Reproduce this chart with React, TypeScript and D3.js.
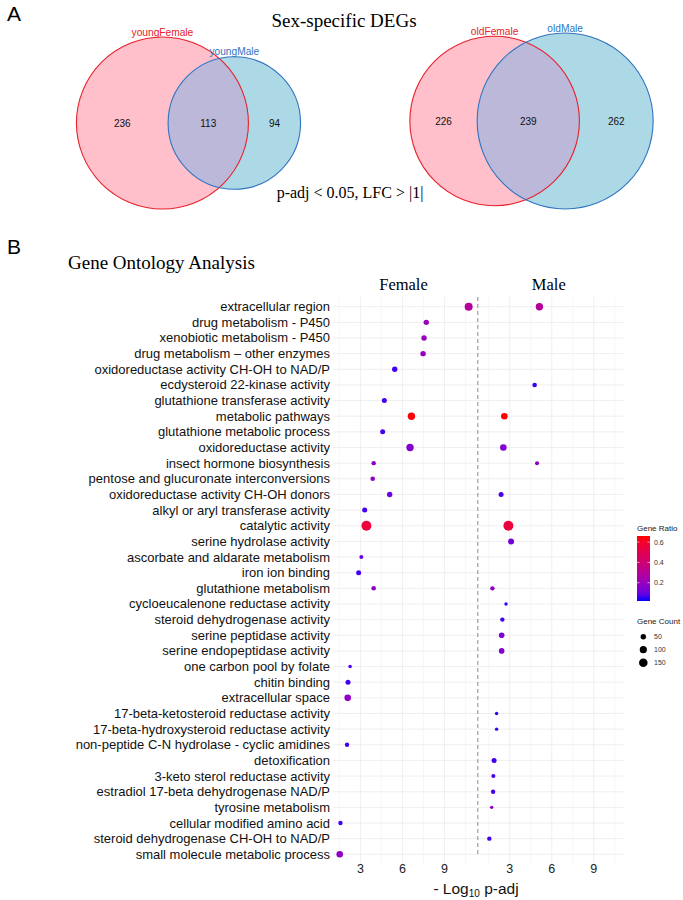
import React from "react";
import * as d3 from "d3";

// ---------- Venn data ----------
const youngSets = ["youngFemale", "youngMale"];
const youngCounts = [236, 113, 94]; // only A, A∩B, only B
const oldSets = ["oldFemale", "oldMale"];
const oldCounts = [226, 239, 262];

// ---------- GO data ----------
const categories = [
  "extracellular region",
  "drug metabolism - P450",
  "xenobiotic metabolism - P450",
  "drug metabolism – other enzymes",
  "oxidoreductase activity CH-OH to NAD/P ",
  "ecdysteroid 22-kinase activity",
  "glutathione transferase activity",
  "metabolic pathways",
  "glutathione metabolic process",
  "oxidoreductase activity",
  "insect hormone biosynthesis",
  "pentose and glucuronate interconversions",
  "oxidoreductase activity CH-OH donors",
  "alkyl or aryl transferase activity",
  "catalytic activity",
  "serine hydrolase activity",
  "ascorbate and aldarate metabolism",
  "iron ion binding",
  "glutathione metabolism",
  "cycloeucalenone reductase activity",
  "steroid dehydrogenase activity",
  "serine peptidase activity",
  "serine endopeptidase activity",
  "one carbon pool by folate",
  "chitin binding",
  "extracellular space",
  "17-beta-ketosteroid reductase activity",
  "17-beta-hydroxysteroid reductase activity",
  "non-peptide C-N hydrolase - cyclic amidines",
  "detoxification",
  "3-keto sterol reductase activity",
  "estradiol 17-beta dehydrogenase NAD/P",
  "tyrosine metabolism",
  "cellular modified amino acid",
  "steroid dehydrogenase CH-OH to NAD/P",
  "small molecule metabolic process",
];

const femaleLogP: (number | null)[] = [
  10.72, 7.7, 7.54, 7.47, 5.45, null, 4.71, 6.64, 4.59, 6.54, 3.95, 3.88,
  5.09, 3.31, 3.43, null, 3.07, 2.88, 3.95, null, null, null, null, 2.27,
  2.12, 2.1, null, null, 2.05, null, null, null, null, 1.58, null, 1.53,
];
const femaleRatio: (number | null)[] = [
  0.29, 0.2, 0.2, 0.2, 0.05, null, 0.05, 0.65, 0.05, 0.15, 0.17, 0.17,
  0.1, 0.05, 0.55, null, 0.1, 0.05, 0.17, null, null, null, null, 0.07,
  0.05, 0.18, null, null, 0.05, null, null, null, null, 0.05, null, 0.18,
];
const femaleCount: (number | null)[] = [
  128, 50, 50, 50, 50, null, 41, 107, 41, 107, 28, 32,
  50, 41, 205, null, 21, 41, 32, null, null, null, null, 14,
  41, 82, null, null, 28, null, null, null, null, 28, null, 82,
];

const maleLogP: (number | null)[] = [
  5.12, null, null, null, null, 4.78, null, 2.62, null, 2.55, 4.95, null,
  2.39, null, 2.91, 3.1, null, null, 1.77, 2.74, 2.48, 2.43, 2.43, null,
  null, null, 2.07, 2.07, null, 1.89, 1.84, 1.82, 1.72, null, 1.55, null,
];
const maleRatio: (number | null)[] = [
  0.29, null, null, null, null, 0.04, null, 0.66, null, 0.15, 0.17, null,
  0.06, null, 0.55, 0.12, null, null, 0.18, 0.04, 0.05, 0.13, 0.15, null,
  null, null, 0.04, 0.04, null, 0.05, 0.05, 0.05, 0.17, null, 0.05, null,
];
const maleCount: (number | null)[] = [
  107, null, null, null, null, 32, null, 82, null, 82, 21, null,
  41, null, 205, 65, null, null, 28, 11, 28, 55, 55, null,
  null, null, 11, 11, null, 41, 21, 28, 11, null, 28, null,
];

const xTicks = [3, 6, 9];
const xMinor = [1.5, 4.5, 7.5, 10.5];
const ratioTicks = [0.2, 0.4, 0.6];
const countTicks = [50, 100, 150];
const panels = ["Female", "Male"];

const SANS = "'Liberation Sans', Arial, sans-serif";
const SERIF = "'Liberation Serif', 'Times New Roman', serif";

function interArea(r1: number, r2: number, d: number) {
  if (d >= r1 + r2) return 0;
  if (d <= Math.abs(r1 - r2)) return Math.PI * Math.min(r1, r2) ** 2;
  const a = r1 * r1 * Math.acos((d * d + r1 * r1 - r2 * r2) / (2 * d * r1));
  const b = r2 * r2 * Math.acos((d * d + r2 * r2 - r1 * r1) / (2 * d * r2));
  const c =
    0.5 *
    Math.sqrt((-d + r1 + r2) * (d + r1 - r2) * (d - r1 + r2) * (d + r1 + r2));
  return a + b - c;
}

function Venn({
  sets,
  counts,
  cx,
  cy,
  rMax,
  id,
}: {
  sets: string[];
  counts: number[];
  cx: number;
  cy: number;
  rMax: number;
  id: string;
}) {
  const tA = counts[0] + counts[1];
  const tB = counts[1] + counts[2];
  const m = Math.max(tA, tB);
  const rA = rMax * Math.sqrt(tA / m);
  const rB = rMax * Math.sqrt(tB / m);
  const target = (counts[1] / tA) * Math.PI * rA * rA;
  let lo = Math.abs(rA - rB),
    hi = rA + rB;
  for (let i = 0; i < 60; i++) {
    const mid = (lo + hi) / 2;
    if (interArea(rA, rB, mid) > target) lo = mid;
    else hi = mid;
  }
  const d = (lo + hi) / 2;
  const width = rA + d + rB;
  const ax = cx - width / 2 + rA;
  const bx = ax + d;
  const aL = ax - rA,
    aR = ax + rA,
    bL = bx - rB,
    bR = bx + rB;
  const labelX = [(aL + bL) / 2, (bL + aR) / 2, (aR + bR) / 2];
  return (
    <g>
      <defs>
        <clipPath id={id}>
          <circle cx={bx} cy={cy} r={rB} />
        </clipPath>
      </defs>
      <circle cx={ax} cy={cy} r={rA} fill="#FFC0CB" />
      <circle cx={bx} cy={cy} r={rB} fill="#ADD8E6" />
      <circle cx={ax} cy={cy} r={rA} fill="#BBB8D9" clipPath={`url(#${id})`} />
      <circle cx={ax} cy={cy} r={rA} fill="none" stroke="#E8202A" strokeWidth={1.1} />
      <circle cx={bx} cy={cy} r={rB} fill="none" stroke="#2F74C0" strokeWidth={1.1} />
      <text x={ax} y={cy - rA - 1.5} textAnchor="middle" fontFamily={SANS} fontSize={10.2} fill="#E8202A">
        {sets[0]}
      </text>
      <text x={bx} y={cy - rB - 1.5} textAnchor="middle" fontFamily={SANS} fontSize={10.2} fill="#2F74C0">
        {sets[1]}
      </text>
      {counts.map((c, i) => (
        <text key={i} x={labelX[i]} y={cy + 3.5} textAnchor="middle" fontFamily={SANS} fontSize={10} fill="#111">
          {c}
        </text>
      ))}
    </g>
  );
}

export default function App() {
  const W = 683,
    H = 900;
  const y = d3.scalePoint<string>().domain(categories).range([306.7, 854.3]);
  const xDomain = [1.05, 11.1];
  const xF = d3.scaleLinear().domain(xDomain).range([333, 474]);
  const xM = d3.scaleLinear().domain(xDomain).range([482.3, 623.3]);
  const scales = [xF, xM];
  const headerShift = [0, -4];
  const panelTop = 297,
    panelBottom = 864;
  const color = d3
    .scaleLinear<string>()
    .domain([0.02, 0.66])
    .range(["blue", "red"])
    .interpolate(d3.interpolateLab)
    .clamp(true);
  const sizeArea = d3.scaleLinear().domain([50, 150]).range([7.29, 18.49]);
  const rad = (c: number) => Math.sqrt(sizeArea(c));

  const series = [
    { p: femaleLogP, r: femaleRatio, c: femaleCount },
    { p: maleLogP, r: maleRatio, c: maleCount },
  ];

  // legend
  const legX = 637,
    barTop = 536,
    barBottom = 601;
  const legY = d3.scaleLinear().domain([0.02, 0.66]).range([barBottom, barTop]);
  const gradStops = d3.range(0, 1.0001, 0.1);

  return (
    <svg
      width={W}
      height={H}
      viewBox={`0 0 ${W} ${H}`}
      style={{ position: "absolute", left: 0, top: 0, background: "#fff" }}
    >
      <rect width={W} height={H} fill="#fff" />
      {/* Panel A */}
      <text x={7} y={21} fontFamily={SANS} fontSize={21}>A</text>
      <text x={344} y={27} textAnchor="middle" fontFamily={SERIF} fontSize={19}>
        Sex-specific DEGs
      </text>
      <Venn sets={youngSets} counts={youngCounts} cx={188.5} cy={123} rMax={86} id="clipYoung" />
      <Venn sets={oldSets} counts={oldCounts} cx={531.5} cy={121} rMax={88} id="clipOld" />
      <text x={350} y={198} textAnchor="middle" fontFamily={SERIF} fontSize={16}>
        p-adj &lt; 0.05, LFC &gt; |1|
      </text>

      {/* Panel B */}
      <text x={7} y={254} fontFamily={SANS} fontSize={21}>B</text>
      <text x={68} y={269} fontFamily={SERIF} fontSize={19}>
        Gene Ontology Analysis
      </text>

      {/* grid */}
      <g>
        {categories.map((c) => (
          <line key={c} x1={333} x2={623.3} y1={y(c)} y2={y(c)} stroke="#EBEBEB" strokeWidth={0.8} />
        ))}
        {scales.map((sx, i) => (
          <g key={i}>
            {xMinor.map((t) => (
              <line key={"m" + t} x1={sx(t)} x2={sx(t)} y1={panelTop} y2={panelBottom} stroke="#F2F2F2" strokeWidth={0.6} />
            ))}
            {xTicks.map((t) => (
              <line key={"M" + t} x1={sx(t)} x2={sx(t)} y1={panelTop} y2={panelBottom} stroke="#EBEBEB" strokeWidth={0.8} />
            ))}
            <text x={(sx.range()[0] + sx.range()[1]) / 2 + headerShift[i]} y={290} textAnchor="middle" fontFamily={SERIF} fontSize={16.5}>
              {panels[i]}
            </text>
            {xTicks.map((t) => (
              <text key={"t" + t} x={sx(t)} y={873} textAnchor="middle" fontFamily={SANS} fontSize={12.5} fill="#222">
                {t}
              </text>
            ))}
          </g>
        ))}
        <line x1={477.8} x2={477.8} y1={panelTop} y2={857} stroke="#8A8A8A" strokeWidth={1} strokeDasharray="4,3" />
      </g>

      {/* y labels */}
      {categories.map((c) => (
        <text key={c} x={330} y={(y(c) as number) + 4.5} textAnchor="end" fontFamily={SANS} fontSize={13} fill="#111">
          {c}
        </text>
      ))}

      {/* dots */}
      {series.map((s, si) => (
        <g key={si}>
          {categories.map((c, i) => {
            const p = s.p[i];
            if (p == null) return null;
            return (
              <circle
                key={c}
                cx={scales[si](p)}
                cy={y(c)}
                r={rad(s.c[i] as number)}
                fill={color(s.r[i] as number)}
              />
            );
          })}
        </g>
      ))}

      {/* x title */}
      <text x={476} y={894} textAnchor="middle" fontFamily={SANS} fontSize={15.5} fill="#111">
        - Log<tspan fontSize={10} dy={3}>10</tspan>
        <tspan dy={-3}> p-adj</tspan>
      </text>

      {/* legend: ratio */}
      <defs>
        <linearGradient id="ratioGrad" x1="0" y1="1" x2="0" y2="0">
          {gradStops.map((t) => (
            <stop key={t} offset={t} stopColor={color(0.02 + t * 0.64)} />
          ))}
        </linearGradient>
      </defs>
      <text x={legX} y={531} fontFamily={SANS} fontSize={8} fill="#222">Gene Ratio</text>
      <rect x={legX} y={barTop} width={13} height={barBottom - barTop} fill="url(#ratioGrad)" />
      {ratioTicks.map((t) => (
        <g key={t}>
          <line x1={legX} x2={legX + 2.5} y1={legY(t)} y2={legY(t)} stroke="#fff" strokeWidth={0.6} />
          <line x1={legX + 10.5} x2={legX + 13} y1={legY(t)} y2={legY(t)} stroke="#fff" strokeWidth={0.6} />
          <text x={legX + 17} y={legY(t) + 2.5} fontFamily={SANS} fontSize={7} fill="#333">{t}</text>
        </g>
      ))}
      <text x={legX} y={624} fontFamily={SANS} fontSize={8} fill="#222">Gene Count</text>
      {countTicks.map((t, i) => (
        <g key={t}>
          <circle cx={643.3} cy={636.7 + i * 13} r={rad(t)} fill="#000" />
          <text x={654} y={636.7 + i * 13 + 2.5} fontFamily={SANS} fontSize={7} fill="#333">{t}</text>
        </g>
      ))}
    </svg>
  );
}
